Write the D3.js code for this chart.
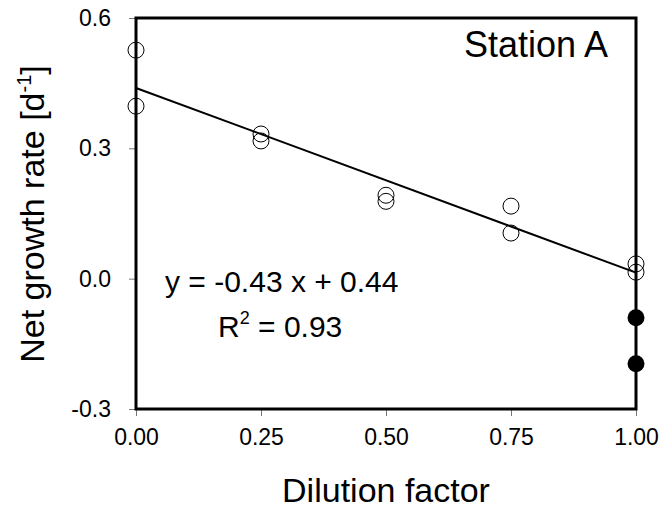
<!DOCTYPE html>
<html>
<head>
<meta charset="utf-8">
<script src="https://cdn.jsdelivr.net/npm/d3@7"></script>
<style>
  body { margin: 0; background: #fff; }
  svg text { font-family: "Liberation Sans", Arial, sans-serif; fill: #000; }
</style>
</head>
<body>
<svg id="chart" width="662" height="516"></svg>
<script>
// open circles: samples used for the regression
const dilution = [0, 0, 0.25, 0.25, 0.5, 0.5, 0.75, 0.75, 1, 1];
const growth = [0.526, 0.397, 0.333, 0.317, 0.192, 0.178, 0.167, 0.105, 0.034, 0.015];

// filled circles: excluded points at dilution 1.00
const excludedX = [1, 1];
const excludedY = [-0.090, -0.196];

const xTicks = [0, 0.25, 0.5, 0.75, 1];
const yTicks = [-0.3, 0, 0.3, 0.6];

const margin = { top: 18, right: 26, bottom: 107, left: 136 };
const width = 662 - margin.left - margin.right;
const height = 516 - margin.top - margin.bottom;

const svg = d3.select('#chart');
const g = svg.append('g').attr('transform', `translate(${margin.left},${margin.top})`);

const x = d3.scaleLinear().domain([0, 1]).range([0, width]);
const y = d3.scaleLinear().domain([-0.3, 0.6]).range([height, 0]);

// plain hyphen for negatives, like the original
const fmt = (n) => (d) => d.toFixed(n);

const xAxis = g.append('g')
    .attr('transform', `translate(0,${height})`)
    .call(d3.axisBottom(x).tickValues(xTicks).tickFormat(fmt(2)).tickSize(7).tickPadding(13));
const yAxis = g.append('g')
    .call(d3.axisLeft(y).tickValues(yTicks).tickFormat(fmt(1)).tickSize(7).tickPadding(18));

[xAxis, yAxis].forEach((ax) => {
    ax.select('.domain').remove();
    ax.selectAll('.tick line').attr('stroke', '#777').attr('stroke-width', 1);
    ax.selectAll('.tick text').style('font-size', '23px').attr('fill', '#000');
});

// frame
g.append('rect')
    .attr('x', 0).attr('y', 0)
    .attr('width', width).attr('height', height)
    .attr('fill', 'none').attr('stroke', '#000').attr('stroke-width', 3);

// least squares fit of the open circles
const mx = d3.mean(dilution);
const my = d3.mean(growth);
const slope = d3.sum(dilution, (d, i) => (d - mx) * (growth[i] - my)) / d3.sum(dilution, (d) => (d - mx) * (d - mx));
const intercept = my - slope * mx;

g.append('line')
    .attr('x1', x(0)).attr('y1', y(intercept))
    .attr('x2', x(1)).attr('y2', y(slope + intercept))
    .attr('stroke', '#000').attr('stroke-width', 2);

g.selectAll('circle.open').data(dilution).enter().append('circle')
    .attr('class', 'open')
    .attr('cx', (d) => x(d))
    .attr('cy', (d, i) => y(growth[i]))
    .attr('r', 8)
    .attr('fill', 'none').attr('stroke', '#000').attr('stroke-width', 1);

g.selectAll('circle.filled').data(excludedX).enter().append('circle')
    .attr('class', 'filled')
    .attr('cx', (d) => x(d))
    .attr('cy', (d, i) => y(excludedY[i]))
    .attr('r', 8.5)
    .attr('fill', '#000');

// labels
g.append('text')
    .attr('x', width - 28).attr('y', 39)
    .attr('text-anchor', 'end')
    .style('font-size', '36px')
    .text('Station A');

g.append('text')
    .attr('x', 29).attr('y', 274)
    .style('font-size', '30px')
    .text('y = -0.43 x + 0.44');

const r2 = g.append('text')
    .attr('x', 82).attr('y', 319)
    .style('font-size', '30px');
r2.append('tspan').text('R');
r2.append('tspan').attr('dy', -13).style('font-size', '18px').text('2');
r2.append('tspan').attr('dy', 13).text(' = 0.93');

svg.append('text')
    .attr('x', margin.left + width / 2).attr('y', 502)
    .attr('text-anchor', 'middle')
    .style('font-size', '34px')
    .text('Dilution factor');

const yTitle = svg.append('text')
    .attr('transform', 'translate(44,214) rotate(-90)')
    .attr('text-anchor', 'middle')
    .style('font-size', '34px');
yTitle.append('tspan').text('Net growth rate [d');
yTitle.append('tspan').attr('dy', -13).style('font-size', '20px').text('-1');
yTitle.append('tspan').attr('dy', 13).text(']');
</script>
</body>
</html>
